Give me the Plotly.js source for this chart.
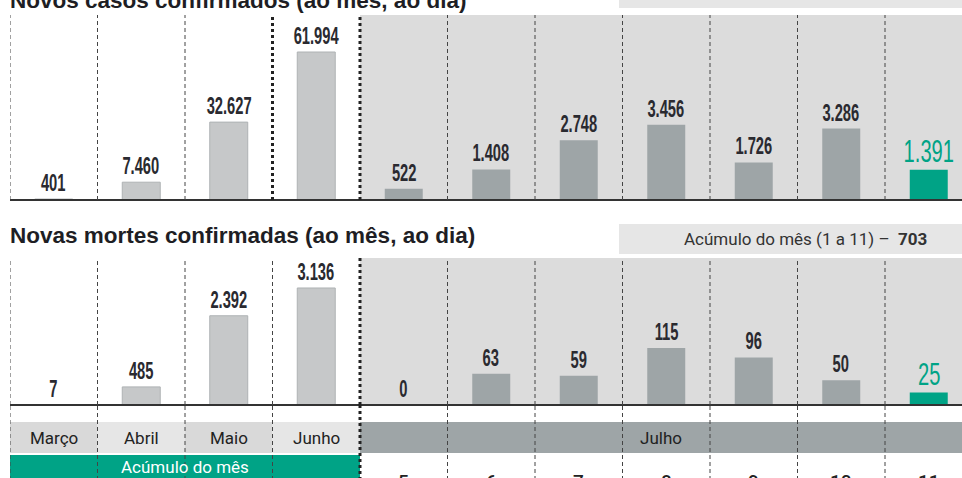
<!DOCTYPE html>
<html>
<head>
<meta charset="utf-8">
<script src="https://cdn.plot.ly/plotly-3.0.1.min.js"></script>
<style>html,body{margin:0;padding:0;background:#fff;}#chart{width:962px;height:478px;}</style>
</head>
<body>
<div id="chart"></div>
<script>
// ---- data ----
const months = ["Março", "Abril", "Maio", "Junho"];
const days = ["5", "6", "7", "8", "9", "10", "11"];
const casesMonth = [401, 7460, 32627, 61994];
const casesDay = [522, 1408, 2748, 3456, 1726, 3286, 1391];
const deathsMonth = [7, 485, 2392, 3136];
const deathsDay = [0, 63, 59, 115, 96, 50, 25];
const deathsTotal = 703;
const titleCases = "Novos casos confirmados (ao mês, ao dia)";
const titleDeaths = "Novas mortes confirmadas (ao mês, ao dia)";
const monthJuly = "Julho";
const accumLabel = "Acúmulo do mês";
const accumRange = "(1 a 11)";

// ---- helpers ----
const W = 962, H = 478;
const px = x => x / W;
const py = y => 1 - y / H;
const fmt = n => String(n).replace(/\B(?=(\d{3})+(?!\d))/g, ".");
const cats = months.concat(days);
const ci = c => cats.indexOf(c);
const colW = 87.5;
const xEnd = -0.5 + (W - 10) / colW;

const numFont = "Liberation Sans, Arial, sans-serif";
const txtFont = "Roboto, Liberation Sans, sans-serif";
const titleFont = "Liberation Sans, Arial, sans-serif";
const green = "#00a386";
const lightBar = "#c6c8c9";
const darkBar = "#9ea5a7";
const bgGray = "#dcdcdc";

const barW = 0.434;
const dayColors = days.map((d, i) => i === days.length - 1 ? green : darkBar);

const traces = [
  {type: "bar", x: months, y: casesMonth, xaxis: "x", yaxis: "y", width: barW,
   marker: {color: lightBar, line: {color: "#aeb2b4", width: 1}}, hoverinfo: "none"},
  {type: "bar", x: days, y: casesDay, xaxis: "x", yaxis: "y2", width: barW,
   marker: {color: dayColors}, hoverinfo: "none"},
  {type: "bar", x: months, y: deathsMonth, xaxis: "x", yaxis: "y3", width: barW,
   marker: {color: lightBar, line: {color: "#aeb2b4", width: 1}}, hoverinfo: "none"},
  {type: "bar", x: days, y: deathsDay, xaxis: "x", yaxis: "y4", width: barW,
   marker: {color: dayColors}, hoverinfo: "none"}
];

// ---- shapes ----
const shapes = [];
const rect = (x0, x1, y0, y1, color, xref) => shapes.push({
  type: "rect", xref: xref || "x", yref: "paper", x0: x0, x1: x1, y0: py(y1), y1: py(y0),
  fillcolor: color, line: {width: 0}, layer: "below"
});
rect(3.5, 11, 15, 200, bgGray);
rect(3.5, 11, 258, 405, bgGray);
rect(px(619), 1, -30, 8, "#e6e6e6", "paper");
rect(px(619), 1, 224, 254, "#e6e6e6", "paper");
months.forEach((m, i) => rect(i - 0.5, i + 0.5, 422, 453, i % 2 === 0 ? "#d9d9d9" : "#e6e6e6"));
rect(3.5, 11, 422, 453, darkBar);
rect(-0.5, 3.5, 455, 490, green);

[200, 405].forEach(y => shapes.push({
  type: "line", xref: "paper", yref: "paper", x0: px(10), x1: 1, y0: py(y), y1: py(y),
  line: {color: "#333", width: 2}, layer: "above"
}));

const segs = [[15, 200, "cases"], [258, 405, "deaths"], [405, 480, "bottom"]];
for (let k = 0; k <= 10; k++) {
  const b = k - 0.5;
  segs.forEach(s => {
    const thick = (b === 3.5) || (b === 2.5 && s[2] === "cases");
    shapes.push({
      type: "line", xref: "x", yref: "paper", x0: b, x1: b, y0: py(s[1]), y1: py(s[0]),
      line: thick ? {color: "#222", width: 3, dash: "3px,3px"} : {color: "#444", width: 1, dash: "4px,3px"},
      layer: "above"
    });
  });
}

// ---- annotations ----
const ann = [];
const squeeze = [];
const valLabel = (cat, y, yref, big) => {
  ann.push({
    xref: "x", yref: yref, x: ci(cat), y: y, text: fmt(y), showarrow: false,
    yanchor: "bottom", yshift: big ? -1 : 1,
    font: {family: numFont, size: big ? 31 : 23, color: big ? green : "#2a2a30", weight: big ? "normal" : "bold"}
  });
  squeeze[ann.length - 1] = big ? 0.65 : 0.64;
};
months.forEach((m, i) => valLabel(m, casesMonth[i], "y", false));
days.forEach((d, i) => valLabel(d, casesDay[i], "y2", i === days.length - 1));
months.forEach((m, i) => valLabel(m, deathsMonth[i], "y3", false));
days.forEach((d, i) => valLabel(d, deathsDay[i], "y4", i === days.length - 1));

ann.push({xref: "paper", yref: "paper", x: px(8), y: py(0), xanchor: "left", yanchor: "middle",
  text: "<b>" + titleCases + "</b>", showarrow: false, font: {family: titleFont, size: 22.5, color: "#1e1e24"}});
ann.push({xref: "paper", yref: "paper", x: px(8), y: py(235), xanchor: "left", yanchor: "middle",
  text: "<b>" + titleDeaths + "</b>", showarrow: false, font: {family: titleFont, size: 22.5, color: "#1e1e24"}});

ann.push({xref: "paper", yref: "paper", x: px(929), y: py(239), xanchor: "right", yanchor: "middle",
  text: accumLabel + " " + accumRange + " –  <b>" + fmt(deathsTotal) + "</b>", showarrow: false,
  font: {family: txtFont, size: 17, color: "#333"}});

months.forEach(m => ann.push({xref: "x", yref: "paper", x: ci(m), y: py(438), yanchor: "middle",
  text: m, showarrow: false, font: {family: txtFont, size: 17, color: "#222"}}));
ann.push({xref: "x", yref: "paper", x: (3.5 + xEnd) / 2, y: py(438), yanchor: "middle",
  text: monthJuly, showarrow: false, font: {family: txtFont, size: 17, color: "#222"}});
ann.push({xref: "x", yref: "paper", x: 1.5, y: py(467), yanchor: "middle",
  text: accumLabel, showarrow: false, font: {family: txtFont, size: 17, color: "#fff"}});
days.forEach(d => ann.push({xref: "x", yref: "paper", x: ci(d), y: py(482), yanchor: "middle",
  text: d, showarrow: false, font: {family: txtFont, size: 19, color: "#222", weight: 500}}));

const hidden = {visible: false, fixedrange: true};
const layout = {
  width: W, height: H,
  margin: {l: 0, r: 0, t: 0, b: 0},
  paper_bgcolor: "#fff", plot_bgcolor: "rgba(0,0,0,0)",
  showlegend: false, barmode: "overlay",
  xaxis: Object.assign({type: "category", categoryorder: "array", categoryarray: cats,
    domain: [px(10), 1], range: [-0.5, xEnd]}, hidden),
  yaxis: Object.assign({domain: [py(200), py(15)], range: [0, 185 * 418.9], anchor: "x"}, hidden),
  yaxis2: Object.assign({overlaying: "y", range: [0, 185 * 46], anchor: "x"}, hidden),
  yaxis3: Object.assign({domain: [py(405), py(258)], range: [0, 147 * 26.8], anchor: "x"}, hidden),
  yaxis4: Object.assign({overlaying: "y3", range: [0, 147 * 2.02], anchor: "x"}, hidden),
  shapes: shapes,
  annotations: ann
};

Plotly.newPlot("chart", traces, layout, {displayModeBar: false, staticPlot: true}).then(gd => {
  gd.querySelectorAll("g.annotation").forEach(g => {
    const f = squeeze[+g.getAttribute("data-index")];
    if (!f) return;
    const t = g.querySelector("text.annotation-text");
    if (!t) return;
    const w = t.getComputedTextLength();
    t.setAttribute("textLength", (w * f).toFixed(1));
    t.setAttribute("lengthAdjust", "spacingAndGlyphs");
  });
});
</script>
</body>
</html>
